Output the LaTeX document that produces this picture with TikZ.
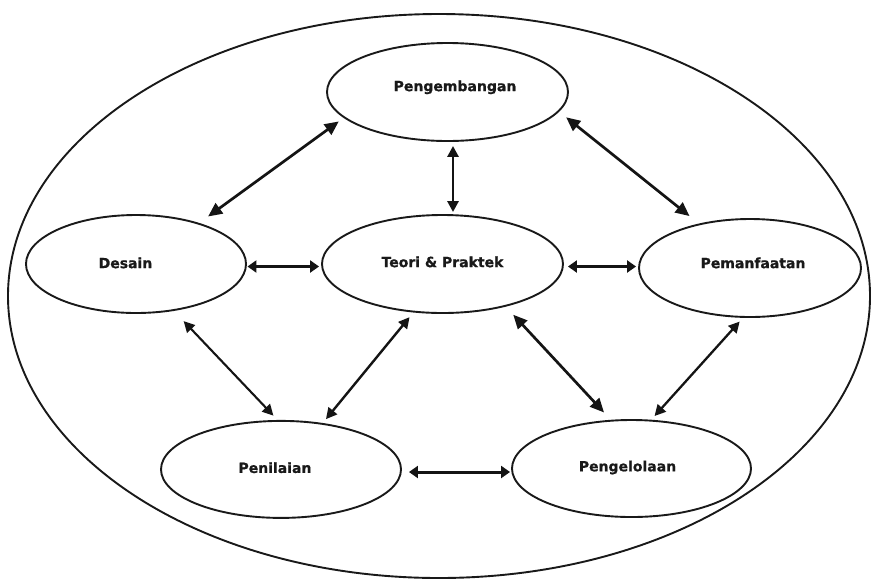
\documentclass[tikz,border=0pt]{standalone}
\usepackage{fontspec}
\setmainfont{DejaVu Sans}
\newfontfamily\heavyface{DejaVu Sans Bold}[FakeBold=0.8]
\usetikzlibrary{shapes.geometric,arrows.meta}
\begin{document}
\begin{tikzpicture}[x=1pt,y=-1pt,
  area/.style={draw=black!90, ellipse, line width=1.9pt, inner sep=0pt,
               minimum height=98pt},
  domtext/.style={font=\heavyface\fontsize{14}{16}\selectfont, text=black!90,
               text height=10.2pt, text depth=0pt, inner sep=0pt},
  link/.style={line width=2.4pt, draw=black!92,
               {Triangle[length=11pt,width=11pt]}-{Triangle[length=11pt,width=11pt]}},
  biglink/.style={line width=2.7pt, draw=black!92,
               {Triangle[length=14pt,width=12.5pt]}-{Triangle[length=14pt,width=12.5pt]}},
  flatlink/.style={line width=3pt, draw=black!92,
               {Triangle[length=9pt,width=12pt]}-{Triangle[length=9pt,width=12pt]}}
]
\useasboundingbox (0,0) rectangle (872,582);

% enclosing field
\node[draw=black!90, ellipse, line width=1.9pt, inner sep=0pt,
      minimum width=862pt, minimum height=564pt] (field) at (439,296) {};

% the six domains
\node[area, minimum width=241pt,
      label={[domtext, xshift=7.5pt, yshift=6pt]center:Pengembangan}] (peng) at (447.5,92) {};
\node[area, minimum width=220pt,
      label={[domtext, xshift=-10.5pt, yshift=1pt]center:Desain}] (desain) at (136,264) {};
\node[area, minimum width=241pt,
      label={[domtext, yshift=2pt]center:Teori \& Praktek}] (teori) at (442.5,264) {};
\node[area, minimum width=222pt,
      label={[domtext, xshift=3pt, yshift=5pt]center:Pemanfaatan}] (pem) at (750,268) {};
\node[area, minimum width=240pt, minimum height=97pt,
      label={[domtext, xshift=-6pt, yshift=1.6pt]center:Penilaian}] (nilai) at (281,469.4) {};
\node[area, minimum width=239pt, minimum height=97pt,
      label={[domtext, xshift=-4pt, yshift=2.3pt]center:Pengelolaan}] (kelola) at (631.5,468.5) {};

% two-way relations
\draw[biglink, shorten <=11pt, shorten >=6pt] (desain.33.5) -- (peng.194);
\draw[link, line width=2.9pt, shorten <=4pt, shorten >=2pt]
  ([xshift=5.5pt]peng.south) -- ([xshift=10.5pt]teori.north);
\draw[biglink, shorten <=9pt, shorten >=12pt] (peng.-10) -- (pem.139.5);
\draw[flatlink, shorten <=0.5pt, shorten >=2pt]
  ([yshift=-2.5pt]desain.east) -- ([yshift=-2.5pt]teori.west);
\draw[flatlink, shorten <=4pt, shorten >=2pt]
  ([yshift=-2.5pt]teori.east) -- ([yshift=1.5pt]pem.west);
\draw[link, line width=2.1pt, shorten <=14pt, shorten >=6pt] (desain.-51) -- (nilai.94.5);
\draw[link, shorten <=6pt, shorten >=5pt] (teori.239.7) -- (nilai.48.3);
\draw[biglink, shorten <=11pt, shorten >=10pt] (teori.-34.5) -- (kelola.113.6);
\draw[link, line width=2.3pt, shorten <=5pt, shorten >=5pt] (pem.262.3) -- (kelola.68);
\draw[flatlink, shorten <=7pt, shorten >=1pt]
  ([yshift=-2.6pt]nilai.east) -- ([yshift=-3.5pt]kelola.west);
\end{tikzpicture}
\end{document}
